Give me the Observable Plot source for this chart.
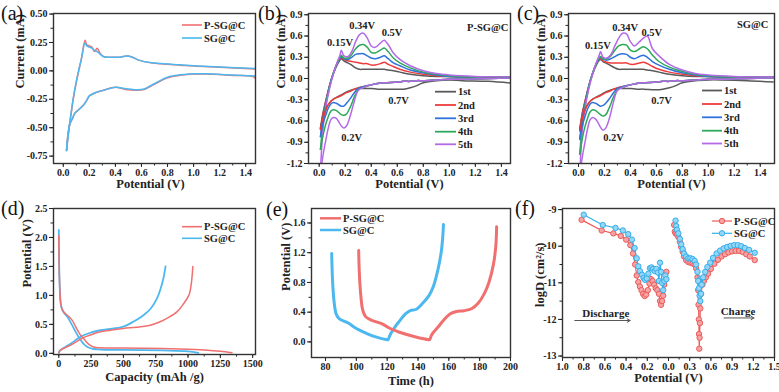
<!DOCTYPE html>
<html><head><meta charset="utf-8">
<script src="https://cdn.jsdelivr.net/npm/d3@7"></script>
<script src="https://cdn.jsdelivr.net/npm/@observablehq/plot@0.6"></script>
<style>
body{margin:0;background:#fff;}
#fig{position:relative;width:779px;height:392px;overflow:hidden;background:#fff;}
</style></head><body><div id="fig"></div>
<script>
// ---------------- DATA ----------------
const seriesNames = ["P-SG@C", "SG@C"];
const cycleNames = ["1st", "2nd", "3rd", "4th", "5th"];
const panelTags = ["(a)", "(b)", "(c)", "(d)", "(e)", "(f)"];

// (a) CV, [potential V, current mA]
const aAnodicPSG = [[0.025,-0.70],[0.045,-0.50],[0.06,-0.38],[0.075,-0.26],[0.095,-0.13],[0.117,-0.01],[0.14,0.11],[0.167,0.27],[0.18,0.23],[0.20,0.22],[0.22,0.21],[0.24,0.17],[0.26,0.20],[0.28,0.16],[0.31,0.125],[0.36,0.12],[0.42,0.12],[0.49,0.13],[0.53,0.12],[0.58,0.095],[0.65,0.075],[0.75,0.062],[0.9,0.05],[1.0,0.042],[1.2,0.032],[1.48,0.017]];
const aAnodicSG  = [[0.025,-0.70],[0.045,-0.50],[0.06,-0.37],[0.075,-0.25],[0.095,-0.12],[0.117,0.0],[0.14,0.11],[0.167,0.245],[0.18,0.22],[0.20,0.21],[0.22,0.20],[0.24,0.18],[0.26,0.17],[0.28,0.15],[0.31,0.125],[0.36,0.12],[0.42,0.12],[0.49,0.13],[0.53,0.12],[0.58,0.095],[0.65,0.075],[0.75,0.064],[0.9,0.053],[1.0,0.045],[1.2,0.035],[1.48,0.02]];
const aCathodicPSG = [[1.48,-0.16],[1.47,-0.06],[1.3,-0.04],[1.1,-0.028],[1.0,-0.028],[0.9,-0.038],[0.8,-0.06],[0.72,-0.105],[0.67,-0.135],[0.62,-0.165],[0.55,-0.17],[0.48,-0.163],[0.4,-0.145],[0.31,-0.17],[0.25,-0.19],[0.2,-0.22],[0.18,-0.26],[0.156,-0.30],[0.12,-0.34],[0.09,-0.37],[0.07,-0.42],[0.05,-0.47],[0.035,-0.57],[0.025,-0.70]];
const aCathodicSG  = [[1.48,-0.045],[1.3,-0.037],[1.1,-0.026],[1.0,-0.025],[0.9,-0.035],[0.8,-0.056],[0.72,-0.10],[0.67,-0.13],[0.62,-0.16],[0.55,-0.165],[0.48,-0.158],[0.4,-0.143],[0.31,-0.17],[0.25,-0.19],[0.2,-0.22],[0.18,-0.26],[0.156,-0.30],[0.12,-0.34],[0.09,-0.37],[0.07,-0.42],[0.05,-0.47],[0.035,-0.57],[0.025,-0.70]];

// (b), (c) CV cycles: shared potentials, currents per cycle
const cvAnodicV   = [0.01,0.03,0.05,0.08,0.11,0.14,0.16,0.17,0.19,0.22,0.25,0.28,0.31,0.34,0.37,0.40,0.43,0.47,0.50,0.53,0.57,0.62,0.70,0.80,0.90,1.00,1.20,1.50];
const cvCathodicV = [1.50,1.30,1.10,1.00,0.90,0.80,0.75,0.70,0.65,0.60,0.50,0.45,0.40,0.35,0.30,0.27,0.24,0.21,0.19,0.17,0.15,0.13,0.11,0.09,0.07,0.05,0.03,0.01];

const bAnodic1 = [-0.70,-0.48,-0.32,-0.10,0.07,0.20,0.26,0.28,0.25,0.22,0.19,0.15,0.13,0.13,0.13,0.13,0.13,0.13,0.13,0.12,0.11,0.09,0.06,0.04,0.03,0.03,0.02,0.02];
const bAnodic2 = [-0.72,-0.50,-0.33,-0.10,0.08,0.22,0.28,0.30,0.27,0.25,0.24,0.23,0.22,0.21,0.21,0.19,0.19,0.21,0.23,0.20,0.17,0.13,0.09,0.06,0.04,0.03,0.02,0.02];
const bAnodic3 = [-0.82,-0.55,-0.35,-0.10,0.08,0.22,0.29,0.32,0.28,0.27,0.30,0.34,0.35,0.35,0.32,0.29,0.28,0.30,0.32,0.28,0.22,0.18,0.12,0.08,0.05,0.03,0.02,0.02];
const bAnodic4 = [-1.00,-0.62,-0.38,-0.12,0.08,0.22,0.30,0.33,0.29,0.29,0.34,0.42,0.47,0.48,0.44,0.37,0.36,0.40,0.43,0.38,0.29,0.22,0.15,0.09,0.06,0.04,0.02,0.02];
const bAnodic5 = [-1.30,-0.70,-0.42,-0.14,0.07,0.24,0.33,0.40,0.32,0.31,0.38,0.52,0.62,0.64,0.57,0.46,0.44,0.50,0.54,0.48,0.36,0.27,0.18,0.11,0.07,0.05,0.03,0.02];
const bCathodic1 = [-0.07,-0.04,-0.03,-0.02,-0.03,-0.06,-0.10,-0.13,-0.15,-0.15,-0.15,-0.15,-0.14,-0.14,-0.14,-0.15,-0.17,-0.19,-0.21,-0.23,-0.25,-0.27,-0.29,-0.32,-0.37,-0.44,-0.55,-0.70];
const bCathodic2 = [0.01,0.00,-0.01,-0.01,-0.02,-0.03,-0.03,-0.04,-0.04,-0.05,-0.06,-0.07,-0.09,-0.11,-0.13,-0.15,-0.18,-0.20,-0.22,-0.24,-0.26,-0.27,-0.29,-0.32,-0.37,-0.45,-0.56,-0.72];
const bCathodic3 = [0.01,0.00,-0.01,-0.01,-0.02,-0.03,-0.03,-0.04,-0.04,-0.05,-0.06,-0.07,-0.09,-0.11,-0.14,-0.20,-0.28,-0.35,-0.39,-0.39,-0.37,-0.35,-0.34,-0.36,-0.42,-0.52,-0.63,-0.82];
const bCathodic4 = [0.01,0.00,-0.01,-0.01,-0.02,-0.03,-0.03,-0.04,-0.04,-0.05,-0.06,-0.07,-0.09,-0.12,-0.16,-0.26,-0.40,-0.50,-0.52,-0.51,-0.48,-0.45,-0.44,-0.46,-0.54,-0.65,-0.80,-1.00];
const bCathodic5 = [0.01,0.00,-0.01,-0.01,-0.02,-0.03,-0.03,-0.04,-0.04,-0.05,-0.06,-0.07,-0.09,-0.12,-0.17,-0.32,-0.52,-0.67,-0.70,-0.67,-0.61,-0.56,-0.55,-0.58,-0.70,-0.88,-1.08,-1.35];

const cAnodic1 = [-0.72,-0.48,-0.32,-0.10,0.07,0.20,0.26,0.27,0.24,0.21,0.18,0.15,0.13,0.13,0.13,0.13,0.13,0.13,0.13,0.12,0.11,0.09,0.06,0.04,0.03,0.03,0.02,0.02];
const cAnodic2 = [-0.72,-0.50,-0.33,-0.10,0.08,0.22,0.27,0.28,0.25,0.23,0.22,0.22,0.22,0.22,0.22,0.20,0.20,0.22,0.23,0.21,0.17,0.13,0.09,0.06,0.04,0.03,0.02,0.02];
const cAnodic3 = [-0.85,-0.56,-0.36,-0.10,0.08,0.22,0.28,0.30,0.27,0.26,0.28,0.31,0.34,0.35,0.34,0.30,0.28,0.31,0.33,0.30,0.24,0.19,0.13,0.08,0.05,0.03,0.02,0.02];
const cAnodic4 = [-1.07,-0.64,-0.39,-0.12,0.08,0.22,0.29,0.31,0.28,0.28,0.32,0.40,0.46,0.48,0.47,0.40,0.38,0.42,0.45,0.42,0.33,0.24,0.16,0.10,0.06,0.04,0.02,0.02];
const cAnodic5 = [-1.35,-0.72,-0.43,-0.14,0.07,0.24,0.33,0.38,0.30,0.29,0.34,0.46,0.57,0.64,0.63,0.52,0.46,0.52,0.57,0.60,0.42,0.32,0.20,0.12,0.07,0.05,0.03,0.02];
const cCathodic1 = [-0.05,-0.03,-0.02,-0.02,-0.03,-0.06,-0.10,-0.13,-0.15,-0.16,-0.15,-0.15,-0.14,-0.14,-0.14,-0.15,-0.17,-0.19,-0.21,-0.23,-0.25,-0.27,-0.29,-0.32,-0.37,-0.44,-0.56,-0.72];
const cCathodic2 = [0.01,0.00,-0.01,-0.01,-0.02,-0.03,-0.03,-0.04,-0.04,-0.05,-0.06,-0.07,-0.09,-0.11,-0.13,-0.15,-0.18,-0.20,-0.22,-0.24,-0.26,-0.27,-0.29,-0.32,-0.37,-0.45,-0.56,-0.74];
const cCathodic3 = [0.01,0.00,-0.01,-0.01,-0.02,-0.03,-0.03,-0.04,-0.04,-0.05,-0.06,-0.07,-0.09,-0.11,-0.14,-0.20,-0.28,-0.35,-0.38,-0.39,-0.37,-0.35,-0.34,-0.36,-0.43,-0.54,-0.66,-0.86];
const cCathodic4 = [0.01,0.00,-0.01,-0.01,-0.02,-0.03,-0.03,-0.04,-0.04,-0.05,-0.06,-0.07,-0.09,-0.12,-0.16,-0.26,-0.40,-0.51,-0.53,-0.51,-0.48,-0.45,-0.44,-0.47,-0.56,-0.68,-0.84,-1.07];
const cCathodic5 = [0.01,0.00,-0.01,-0.01,-0.02,-0.03,-0.03,-0.04,-0.04,-0.05,-0.06,-0.07,-0.09,-0.12,-0.17,-0.33,-0.55,-0.70,-0.73,-0.69,-0.62,-0.57,-0.55,-0.58,-0.71,-0.90,-1.10,-1.38];

// peak annotations (potential, current)
const bPeakLabels = [{x:0.16,y:0.51,t:"0.15V"},{x:0.33,y:0.745,t:"0.34V"},{x:0.56,y:0.65,t:"0.5V"},{x:0.61,y:-0.31,t:"0.7V"},{x:0.25,y:-0.83,t:"0.2V"}];
const cPeakLabels = [{x:0.15,y:0.46,t:"0.15V"},{x:0.36,y:0.72,t:"0.34V"},{x:0.565,y:0.65,t:"0.5V"},{x:0.64,y:-0.31,t:"0.7V"},{x:0.27,y:-0.83,t:"0.2V"}];

// (d) charge/discharge, [capacity mAh/g, potential V]
const dDischargePSG = [[0,2.03],[3,1.5],[8,1.1],[15,0.86],[25,0.77],[40,0.71],[70,0.65],[104,0.57],[130,0.46],[160,0.34],[194,0.25],[230,0.16],[270,0.11],[320,0.097],[500,0.092],[800,0.082],[1000,0.07],[1150,0.055],[1250,0.035],[1340,0.01]];
const dDischargeSG  = [[0,2.13],[3,1.5],[8,1.1],[15,0.86],[25,0.76],[40,0.70],[70,0.62],[100,0.50],[130,0.37],[160,0.26],[194,0.16],[230,0.10],[270,0.075],[320,0.066],[500,0.06],[800,0.05],[1000,0.035],[1080,0.01]];
const dChargePSG = [[0,0.01],[10,0.05],[50,0.10],[100,0.15],[150,0.22],[200,0.28],[250,0.32],[300,0.36],[400,0.40],[500,0.43],[600,0.45],[700,0.48],[780,0.54],[850,0.62],[916,0.72],[960,0.84],[1006,1.0],[1025,1.2],[1037,1.5]];
const dChargeSG  = [[0,0.01],[10,0.05],[50,0.11],[100,0.18],[150,0.26],[200,0.32],[250,0.36],[300,0.39],[400,0.42],[500,0.46],[580,0.55],[650,0.65],[710,0.77],[760,0.95],[787,1.11],[810,1.3],[826,1.5]];

// (e) potential vs time, [time h, potential V]
const ePSG = [[101.5,1.23],[102,0.9],[103,0.6],[104,0.44],[106,0.34],[110,0.29],[117,0.24],[122,0.18],[128,0.13],[138,0.07],[147,0.03],[147.5,0.03],[149,0.1],[153,0.2],[157,0.3],[161,0.38],[165,0.41],[170,0.42],[175,0.45],[179,0.52],[183,0.65],[186,0.8],[189,1.05],[190.5,1.3],[191,1.55]];
const eSG  = [[84,1.19],[84.5,0.85],[85.5,0.55],[87,0.37],[89,0.31],[95,0.25],[100,0.18],[106,0.12],[112,0.07],[120,0.03],[120.5,0.03],[122,0.1],[125,0.2],[128,0.28],[132,0.38],[135,0.42],[139,0.44],[143,0.52],[147,0.62],[150,0.75],[153,0.98],[155,1.2],[156,1.4],[156.5,1.58]];

// (f) logD, [potential V, logD]
const fDischargePSG = [[0.82,-9.28],[0.63,-9.57],[0.52,-9.65],[0.45,-9.72],[0.40,-9.82],[0.36,-9.97],[0.335,-10.2],[0.315,-10.5],[0.30,-10.8],[0.285,-10.98],[0.27,-11.1],[0.255,-11.2],[0.24,-11.3],[0.225,-11.36],[0.21,-11.32],[0.195,-11.2],[0.18,-11.02],[0.165,-10.9],[0.15,-10.95],[0.135,-11.05],[0.12,-11.15],[0.105,-11.2],[0.09,-11.3],[0.08,-11.5],[0.07,-11.6],[0.06,-11.5],[0.05,-11.35],[0.04,-11.05],[0.03,-10.75],[0.02,-10.7]];
const fDischargeSG  = [[0.80,-9.14],[0.62,-9.42],[0.50,-9.50],[0.43,-9.57],[0.38,-9.67],[0.345,-9.82],[0.32,-10.05],[0.30,-10.33],[0.285,-10.55],[0.27,-10.68],[0.25,-10.78],[0.235,-10.87],[0.22,-10.92],[0.205,-10.88],[0.19,-10.75],[0.175,-10.6],[0.16,-10.58],[0.145,-10.62],[0.13,-10.68],[0.115,-10.62],[0.10,-10.72],[0.09,-10.95],[0.08,-10.45],[0.07,-10.7],[0.06,-11.0],[0.05,-11.2],[0.04,-10.95],[0.03,-10.8],[0.02,-10.9]];
const fChargePSG = [[0.08,-9.42],[0.09,-9.6],[0.10,-9.65],[0.12,-9.68],[0.14,-9.75],[0.16,-9.88],[0.18,-10.02],[0.20,-10.15],[0.22,-10.28],[0.25,-10.38],[0.28,-10.43],[0.31,-10.45],[0.34,-10.47],[0.37,-10.5],[0.39,-10.6],[0.41,-10.85],[0.42,-11.2],[0.425,-11.6],[0.43,-12.0],[0.432,-12.4],[0.435,-12.8],[0.44,-12.5],[0.445,-12.1],[0.45,-11.7],[0.46,-11.3],[0.48,-11.05],[0.50,-10.95],[0.53,-10.85],[0.56,-10.75],[0.60,-10.62],[0.65,-10.48],[0.70,-10.37],[0.75,-10.28],[0.80,-10.22],[0.85,-10.17],[0.90,-10.14],[0.95,-10.13],[1.00,-10.13],[1.05,-10.16],[1.10,-10.22],[1.15,-10.28],[1.22,-10.38]];
const fChargeSG = [[0.10,-9.3],[0.11,-9.45],[0.12,-9.55],[0.14,-9.65],[0.16,-9.8],[0.18,-9.95],[0.20,-10.08],[0.22,-10.2],[0.25,-10.28],[0.28,-10.33],[0.31,-10.33],[0.34,-10.35],[0.37,-10.4],[0.39,-10.5],[0.41,-10.7],[0.42,-10.95],[0.43,-11.15],[0.44,-11.35],[0.45,-11.5],[0.46,-11.3],[0.47,-11.05],[0.49,-10.85],[0.52,-10.7],[0.55,-10.57],[0.59,-10.45],[0.63,-10.32],[0.68,-10.2],[0.73,-10.12],[0.78,-10.06],[0.83,-10.02],[0.88,-9.99],[0.93,-9.97],[0.98,-9.97],[1.03,-10.0],[1.08,-10.05],[1.14,-10.1],[1.22,-10.18]];
const fDirectionLabels = [{t:"Discharge", x:2.04, y:-11.85, x1:0.58, x2:3.19, ya:-12.03},{t:"Charge", x:8.28, y:-11.79, x1:7.62, x2:9.03, ya:-11.96}];

// tick values and labels
const cvXTicks = [0,0.2,0.4,0.6,0.8,1.0,1.2,1.4];
const aYTicks = [-0.75,-0.5,-0.25,0,0.25,0.5];
const bcYTicks = [-1.2,-0.9,-0.6,-0.3,0,0.3,0.6,0.9];
const dXTicks = [0,250,500,750,1000,1250,1500];
const dYTicks = [0,0.5,1.0,1.5,2.0,2.5];
const eXTicks = [80,100,120,140,160,180,200];
const eYTicks = [0,0.4,0.8,1.2,1.6];
const fXTickLabels = ["1.0","0.8","0.6","0.4","0.2","0.0","0.3","0.6","0.9","1.2","1.5"];
const fYTicks = [-13,-12,-11,-10,-9];

// ---------------- STYLE ----------------
const SERIF = "'Liberation Serif','Times New Roman',serif";
const RED = "#f07070", BLUE = "#4cb8ef";
const cycleColors = ["#5a5a5a", "#ee3b3b", "#2f72dc", "#2ea85a", "#b46ae6"];
const fig = document.getElementById("fig");
const fixed = n => d => (d < 0 ? "-" : "") + Math.abs(d).toFixed(n);
const pairs = (xs, ys) => xs.map((x, i) => [x, ys[i]]);

function panel(c) {
  const svg = Plot.plot({
    width: c.width, height: c.height,
    marginTop: c.mt, marginRight: c.mr, marginBottom: c.mb, marginLeft: c.ml,
    x: {type: "linear", domain: c.xDomain},
    y: {type: "linear", domain: c.yDomain},
    style: {fontFamily: SERIF, overflow: "visible", background: "transparent", color: "#222"},
    marks: [
      ...c.marks,
      Plot.axisX({ticks: c.xMinor, tickSize: 2.5, tickFormat: () => "", label: null, strokeWidth: 1}),
      Plot.axisY({ticks: c.yMinor, tickSize: 2.5, tickFormat: () => "", label: null, strokeWidth: 1}),
      Plot.axisX({ticks: c.xTicks, tickSize: 4, tickPadding: 1, tickFormat: c.xFormat, label: null, fontSize: 10, fontWeight: "bold", strokeWidth: 1}),
      Plot.axisY({ticks: c.yTicks, tickSize: 4, tickPadding: 2, tickFormat: c.yFormat, label: null, fontSize: 10, fontWeight: "bold", strokeWidth: 1}),
      Plot.text([c.xLabel], {frameAnchor: "bottom", text: d => d, dy: c.xLabelDy, dx: c.xLabelDx || 0, fontSize: 12.5, fontWeight: "bold", fill: "#222"}),
      Plot.text([c.yLabel], {frameAnchor: "left", text: d => d, rotate: -90, dx: c.yLabelDx, dy: c.yLabelDy || 0, fontSize: 12.5, fontWeight: "bold", fill: "#222"}),
      Plot.frame({stroke: "#333", strokeWidth: 1.4})
    ]
  });
  svg.style.position = "absolute";
  svg.style.left = c.left + "px";
  svg.style.top = c.top + "px";
  fig.appendChild(svg);
}
const X0 = d => d[0], Y1 = d => d[1];
const cvLine = (data, stroke, w = 1.5) => Plot.line(data, {x: X0, y: Y1, stroke, strokeWidth: w, curve: "catmull-rom", clip: true});

// (a)
panel({left: 0, top: 0, width: 262, height: 195, mt: 13, mr: 7, mb: 32, ml: 53,
  xDomain: [-0.075, 1.475], yDomain: [-0.815, 0.505],
  xTicks: cvXTicks, xMinor: d3.range(0, 1.45, 0.1), xFormat: fixed(1),
  yTicks: aYTicks, yMinor: d3.range(-0.75, 0.51, 0.125), yFormat: fixed(2),
  xLabel: "Potential (V)", xLabelDy: 24, xLabelDx: -4, yLabel: "Current (mA)", yLabelDx: -34,
  marks: [cvLine(aAnodicPSG, RED), cvLine(aCathodicPSG, RED), cvLine(aAnodicSG, BLUE), cvLine(aCathodicSG, BLUE)]
});

function cvPanel(left, anod, cath, labels) {
  const marks = [];
  anod.forEach((ys, i) => marks.push(cvLine(pairs(cvAnodicV, ys), cycleColors[i], 1.5)));
  cath.forEach((ys, i) => marks.push(cvLine(pairs(cvCathodicV, ys), cycleColors[i], 1.5)));
  marks.push(Plot.text(labels, {x: "x", y: "y", text: "t", fontSize: 10.5, fontWeight: "bold", fill: "#222"}));
  panel({left, top: 0, width: left === 255 ? 262 : 264, height: 195, mt: 13, mr: left === 255 ? 7 : 5, mb: 32, ml: 53,
    xDomain: left === 255 ? [-0.082, 1.47] : [-0.077, 1.51], yDomain: [-1.2, 0.918],
    xTicks: cvXTicks, xMinor: d3.range(0, 1.45, 0.1), xFormat: fixed(1),
    yTicks: bcYTicks, yMinor: d3.range(-1.2, 0.91, 0.15), yFormat: fixed(1),
    xLabel: "Potential (V)", xLabelDy: 24, yLabel: "Current (mA)", yLabelDx: -28,
    marks});
}
cvPanel(255, [bAnodic1,bAnodic2,bAnodic3,bAnodic4,bAnodic5], [bCathodic1,bCathodic2,bCathodic3,bCathodic4,bCathodic5], bPeakLabels);
cvPanel(515, [cAnodic1,cAnodic2,cAnodic3,cAnodic4,cAnodic5], [cCathodic1,cCathodic2,cCathodic3,cCathodic4,cCathodic5], cPeakLabels);

// (d)
panel({left: 0, top: 195, width: 262, height: 197, mt: 13, mr: 7, mb: 38, ml: 53,
  xDomain: [-41, 1522], yDomain: [-0.02, 2.5],
  xTicks: dXTicks, xMinor: d3.range(0, 1501, 125), xFormat: d => String(d),
  yTicks: dYTicks, yMinor: d3.range(0, 2.51, 0.25), yFormat: fixed(1),
  xLabel: "Capacity (mAh /g)", xLabelDy: 26.5, yLabel: "Potential (V)", yLabelDx: -27, yLabelDy: 6,
  marks: [cvLine(dDischargeSG, BLUE, 1.8), cvLine(dChargeSG, BLUE, 1.8), cvLine(dDischargePSG, RED, 1.5), cvLine(dChargePSG, RED, 1.5)]
});

// (e)
panel({left: 255, top: 195, width: 262, height: 197, mt: 13, mr: 7, mb: 35, ml: 56,
  xDomain: [70.9, 200], yDomain: [-0.21, 1.795],
  xTicks: eXTicks, xMinor: d3.range(80, 201, 10), xFormat: d => String(d),
  yTicks: eYTicks, yMinor: d3.range(0, 1.61, 0.2), yFormat: fixed(1),
  xLabel: "Time (h)", xLabelDy: 27, yLabel: "Potential (V)", yLabelDx: -26, yLabelDy: 8,
  marks: [Plot.line(eSG, {x: X0, y: Y1, stroke: BLUE, strokeWidth: 3, curve: "catmull-rom"}),
          Plot.line(ePSG, {x: X0, y: Y1, stroke: RED, strokeWidth: 3, curve: "catmull-rom"})]
});

// (f)
const disU = d => (1.0 - d[0]) / 0.2;
const chgU = d => 5 + d[0] / 0.3;
const fMarks = [];
[[fDischargePSG, disU, "#ec5a5a", "#f7a3a3"], [fChargePSG, chgU, "#ec5a5a", "#f7a3a3"],
 [fDischargeSG, disU, "#35aeea", "#93d6f7"], [fChargeSG, chgU, "#35aeea", "#93d6f7"]].forEach(([data, fx, s, f]) => {
  fMarks.push(Plot.line(data, {x: fx, y: Y1, stroke: s, strokeWidth: 1.2}));
  fMarks.push(Plot.dot(data, {x: fx, y: Y1, r: 2.7, stroke: s, fill: f, strokeWidth: 1}));
});
fMarks.push(Plot.text(fDirectionLabels, {x: "x", y: "y", text: "t", fontSize: 11, fontWeight: "bold", fill: "#222"}));
fMarks.push(Plot.arrow(fDirectionLabels, {x1: "x1", x2: "x2", y1: "ya", y2: "ya", stroke: "#555", strokeWidth: 1, headLength: 5}));
panel({left: 515, top: 195, width: 264, height: 197, mt: 13, mr: 5, mb: 35, ml: 47,
  xDomain: [0, 10], yDomain: [-13.04, -8.97],
  xTicks: d3.range(0, 11, 1), xMinor: d3.range(0, 10.01, 0.5), xFormat: d => fXTickLabels[Math.round(d)],
  yTicks: fYTicks, yMinor: d3.range(-13, -8.99, 0.5), yFormat: d => (d < 0 ? "-" : "") + Math.abs(d),
  xLabel: "Potential (V)", xLabelDy: 24.5, yLabel: "logD (cm²/s)", yLabelDx: -23, yLabelDy: 24,
  marks: fMarks
});

// ---------------- overlay: tags and legends ----------------
const ov = d3.select(fig).append("svg")
  .attr("width", 779).attr("height", 392)
  .style("position", "absolute").style("left", "0px").style("top", "0px")
  .style("overflow", "visible").style("pointer-events", "none")
  .attr("font-family", SERIF);
const tagPos = [[1, 20], [258, 20], [517, 20], [1, 215], [266, 216], [515, 215]];
panelTags.forEach((t, i) => ov.append("text").attr("x", tagPos[i][0]).attr("y", tagPos[i][1]).attr("font-size", 20).attr("fill", "#111").text(t));

function legendItem(x1, x2, y, color, label, w = 1.6, dot = null) {
  ov.append("line").attr("x1", x1).attr("x2", x2).attr("y1", y).attr("y2", y).attr("stroke", color).attr("stroke-width", w);
  if (dot) ov.append("circle").attr("cx", (x1 + x2) / 2).attr("cy", y).attr("r", 2.7).attr("stroke", color).attr("fill", dot);
  ov.append("text").attr("x", x2 + 2).attr("y", y).attr("dy", "0.35em").attr("font-size", 10.5).attr("font-weight", "bold").attr("fill", "#222").text(label);
}
// (a)
legendItem(182, 202, 25, RED, seriesNames[0]);
legendItem(182, 202, 38, BLUE, seriesNames[1]);
// (b), (c)
[91.7, 105, 118.3, 131.7, 144.3].forEach((y, i) => legendItem(435, 456, y, cycleColors[i], cycleNames[i], 1.8));
[90.5, 104, 117.3, 130.7, 143.5].forEach((y, i) => legendItem(702, 722, y, cycleColors[i], cycleNames[i], 1.8));
ov.append("text").attr("x", 467).attr("y", 27.3).attr("dy", "0.35em").attr("font-size", 10.5).attr("font-weight", "bold").attr("fill", "#222").text(seriesNames[0]);
ov.append("text").attr("x", 737).attr("y", 24).attr("dy", "0.35em").attr("font-size", 10.5).attr("font-weight", "bold").attr("fill", "#222").text(seriesNames[1]);
// (d)
legendItem(182, 202, 226.7, RED, seriesNames[0]);
legendItem(182, 202, 238.3, BLUE, seriesNames[1]);
// (e)
legendItem(320, 341, 218.3, RED, seriesNames[0], 2.5);
legendItem(320, 341, 230, BLUE, seriesNames[1], 2.5);
// (f)
legendItem(712, 732, 221, "#ec5a5a", seriesNames[0], 1.2, "#f7a3a3");
legendItem(712, 732, 233.3, "#35aeea", seriesNames[1], 1.2, "#93d6f7");
</script></body></html>
